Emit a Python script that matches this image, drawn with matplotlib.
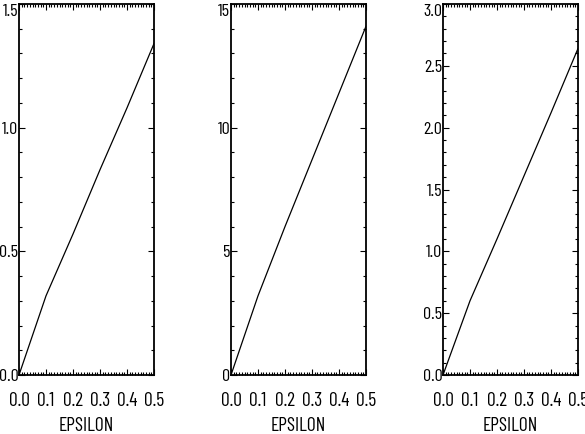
import numpy as np
import matplotlib
matplotlib.use('Agg')
import matplotlib.pyplot as plt
from matplotlib.ticker import MultipleLocator, FixedLocator

# tall narrow sans, IDL-like; falls back to wider faces if missing
plt.rcParams['font.family'] = ['Barlow Condensed', 'Archivo Narrow',
                               'Liberation Sans Narrow', 'DejaVu Sans']

# values (epsilon on x)
epsilon = [0.0, 0.1, 0.2, 0.3, 0.4, 0.5]
y_left = [0.0, 0.32, 0.57, 0.83, 1.08, 1.34]
y_mid = [0.0, 3.2, 6.0, 8.7, 11.4, 14.1]
y_right = [0.0, 0.60, 1.10, 1.61, 2.12, 2.64]

x_ticks = [0.0, 0.1, 0.2, 0.3, 0.4, 0.5]
x_ticklabels = ['0.0', '0.1', '0.2', '0.3', '0.4', '0.5']

panels = [
    (y_left, 1.5, 0.5, 0.1, ['0.0', '0.5', '1.0', '1.5']),
    (y_mid, 15, 5, 1, ['0', '5', '10', '15']),
    (y_right, 3.0, 0.5, 0.1, ['0.0', '0.5', '1.0', '1.5', '2.0', '2.5', '3.0']),
]
lefts = [19 / 585, 231 / 585, 443 / 585]

fig = plt.figure(figsize=(5.85, 4.34), dpi=100)
for left, (yv, ymax, ymaj, ymin, ylabels) in zip(lefts, panels):
    ax = fig.add_axes([left, 59 / 434, 135 / 585, 371 / 434])
    ax.plot(epsilon, yv, color='black', lw=0.9)
    ax.set_xlim(0, 0.5)
    ax.set_ylim(0, ymax)
    ax.xaxis.set_major_locator(FixedLocator(x_ticks))
    ax.set_xticklabels(x_ticklabels)
    ax.xaxis.set_minor_locator(MultipleLocator(0.01))
    yt = np.arange(0, ymax + ymaj / 2, ymaj)
    ax.yaxis.set_major_locator(FixedLocator(yt))
    ax.set_yticklabels(ylabels)
    ax.yaxis.set_minor_locator(MultipleLocator(ymin))
    ax.tick_params(which='both', direction='in', top=True, right=True, width=0.8)
    ax.tick_params(axis='x', which='major', length=4, pad=12, labelsize=14)
    ax.tick_params(axis='y', which='major', length=4, pad=0.5, labelsize=13)
    ax.tick_params(which='minor', length=2)
    # keep the top label inside the figure, as in the reference
    ax.get_yticklabels()[-1].set_va('top')
    for s in ax.spines.values():
        s.set_linewidth(1.3)
    ax.set_xlabel('EPSILON', fontsize=14, labelpad=5)

fig.savefig('out.png', dpi=100)
